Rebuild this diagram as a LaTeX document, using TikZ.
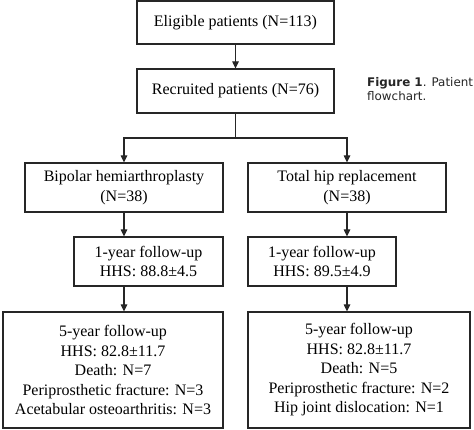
\documentclass[tikz,border=0pt]{standalone}
\usepackage{fontspec}
\setmainfont{Liberation Serif}
\newfontfamily\capfont{DejaVu Sans}
\usetikzlibrary{arrows.meta}
\tikzset{
  box/.style={draw=black!85, line width=1.2pt, inner sep=0pt, align=center,
    font=\fontsize{16}{19.5}\selectfont, text=black},
  arr/.style={draw=black!85, line width=1.2pt, -{Triangle[length=7pt,width=6.5pt]}},
  ln/.style={draw=black!85, line width=1.2pt},
}
\begin{document}
\begin{tikzpicture}[x=1pt,y=1pt]
\useasboundingbox (0,0) rectangle (474,-430);
\node[box, minimum width=197pt, minimum height=43pt] (elig) at (235.5,-22.5) {Eligible patients (N=113)};
\node[box, minimum width=197pt, minimum height=44pt] (recr) at (235.5,-91) {Recruited patients (N=76)};
\node[box, minimum width=198pt, minimum height=49pt] (bip) at (124,-187.5) {Bipolar hemiarthroplasty\\(N=38)};
\node[box, minimum width=198pt, minimum height=49pt] (thr) at (347,-187.5) {Total hip replacement\\(N=38)};
\node[box, minimum width=149pt, minimum height=49pt] (bip1) at (148.5,-261.5) {1-year follow-up\\HHS: 88.8±4.5};
\node[box, minimum width=148pt, minimum height=49pt] (thr1) at (322,-261.5) {1-year follow-up\\HHS: 89.5±4.9};
\node[box, minimum width=220pt, minimum height=116pt] (bip5) at (113,-370) {5-year follow-up\\HHS: 82.8±11.7\\Death: N=7\\Periprosthetic fracture: N=3\\Acetabular osteoarthritis: N=3};
\node[box, minimum width=222pt, minimum height=116pt] (thr5) at (359,-370) {5-year follow-up\\HHS: 82.8±11.7\\Death: N=5\\Periprosthetic fracture: N=2\\Hip joint dislocation: N=1};
\coordinate (split) at (235.5,-138);
\draw[arr] (elig.south) -- (recr.north);
\draw[ln] (recr.south) -- (split);
\draw[arr] (split) -| (bip.north);
\draw[arr] (split) -| (thr.north);
\draw[arr] (bip.south) -- (bip.south |- bip1.north);
\draw[arr] (bip.south |- bip1.south) -- (bip.south |- bip5.north);
\draw[arr] (thr.south) -- (thr.south |- thr1.north);
\draw[arr] (thr.south |- thr1.south) -- (thr.south |- thr5.north);
\node[anchor=base west, align=left, inner sep=0pt, font=\capfont\fontsize{11.9}{14.5}\selectfont, text=black!85] (cap) at (367,-101) {\textbf{Figure 1}. Patient\\flowchart.};
\end{tikzpicture}
\end{document}
